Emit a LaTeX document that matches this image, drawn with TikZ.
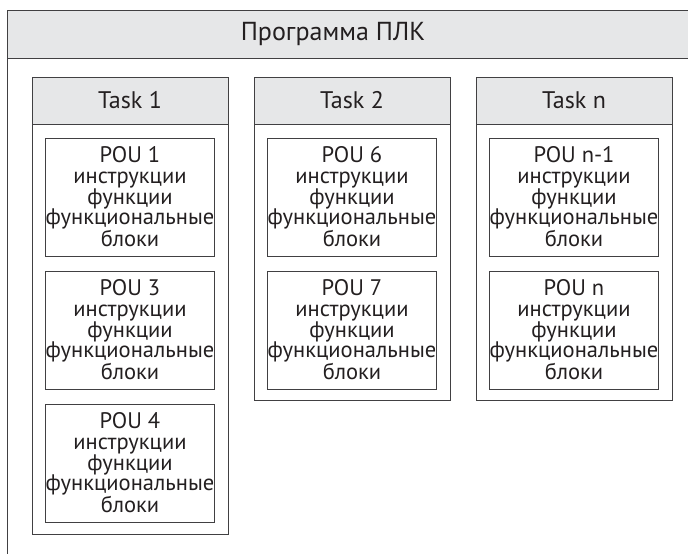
\documentclass[tikz,border=0pt]{standalone}
\usepackage{fontspec}
\setmainfont{PT Sans}
\usetikzlibrary{positioning}
\definecolor{hdrgray}{HTML}{E6E7E8}
\definecolor{linegray}{HTML}{414042}
\definecolor{textblack}{HTML}{231F20}
\tikzstyle{taskhead} = [draw=linegray, fill=hdrgray, rectangle, outer sep=0pt, minimum height=47pt, minimum width=196pt, font=\fontsize{24}{28}\selectfont]
\tikzstyle{taskbody} = [draw=linegray, rectangle, outer sep=0pt, inner sep=0pt, minimum width=196pt]
\tikzstyle{pou} = [draw=linegray, rectangle, outer sep=0pt, inner sep=0pt, minimum height=118pt, minimum width=168pt, align=center, font=\fontsize{22.5}{20.7}\selectfont]
\newcommand{\pouText}[1]{POU #1\\инструкции\\функции\\функциональные\\блоки}

\begin{document}
\begin{tikzpicture}[x=1pt, y=-1pt, node distance=15pt, line width=0.8pt, text=textblack]
    \useasboundingbox (0,0) rectangle (688,554);
    % Program frame
    \fill[hdrgray] (7,10) rectangle (688,58);
    \draw[linegray] (7,554) -- (7,10) -- (688,10);
    \draw[linegray] (7,58) -- (688,58);
    \node [font=\fontsize{26}{30}\selectfont] (prog) at (333,34) {Программа ПЛК};

    % Tasks
    \node [taskhead, anchor=north west] (task1) at (32,77) {Task 1};
    \node [taskhead, right=26pt of task1] (task2) {Task 2};
    \node [taskhead, right=26pt of task2] (taskn) {Task n};
    \node [taskbody, below=0pt of task1, minimum height=410pt] (body1) {};
    \node [taskbody, below=0pt of task2, minimum height=276pt] (body2) {};
    \node [taskbody, below=0pt of taskn, minimum height=276pt] (bodyn) {};

    % POUs
    \node [pou, below=14pt of task1] (pou1) {\pouText{1}};
    \node [pou, below=15pt of pou1] (pou3) {\pouText{3}};
    \node [pou, below=15pt of pou3] (pou4) {\pouText{4}};
    \node [pou, below=14pt of task2] (pou6) {\pouText{6}};
    \node [pou, below=15pt of pou6] (pou7) {\pouText{7}};
    \node [pou, below=14pt of taskn] (poun1) {\pouText{n-1}};
    \node [pou, below=15pt of poun1] (poun) {\pouText{n}};
\end{tikzpicture}
\end{document}
